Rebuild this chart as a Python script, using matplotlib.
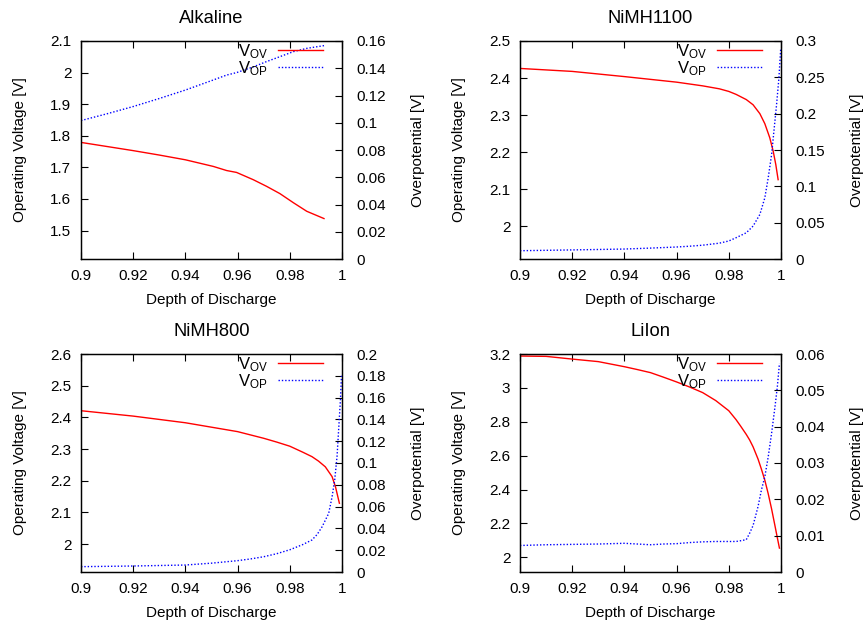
# -*- coding: utf-8 -*-

"""Operating voltage and overpotential near full discharge for four battery types."""

import matplotlib

matplotlib.use("Agg")
import matplotlib.pyplot as plt
from matplotlib.ticker import FormatStrFormatter

# Alkaline
alk_dod = [0.9, 0.91, 0.92, 0.93, 0.94, 0.9507, 0.9558, 0.9596, 0.966, 0.9711, 0.9762, 0.9814, 0.9865, 0.9931]
alk_vov = [1.779, 1.766, 1.753, 1.739, 1.724, 1.703, 1.690, 1.684, 1.661, 1.640, 1.617, 1.588, 1.561, 1.538]
alk_vop = [0.1016, 0.1066, 0.1119, 0.1178, 0.124, 0.1314, 0.135, 0.1368, 0.141, 0.1449, 0.1485, 0.1522, 0.1546, 0.1566]

# NiMH1100
nimh1100_dod_ov = [0.9, 0.92, 0.94, 0.96, 0.97, 0.9764, 0.98, 0.9828, 0.9867, 0.9893, 0.9919, 0.9938, 0.9957, 0.997,
                   0.998, 0.9989]
nimh1100_vov = [2.426, 2.418, 2.404, 2.389, 2.379, 2.371, 2.364, 2.356, 2.342, 2.328, 2.304, 2.277, 2.239, 2.203,
                2.167, 2.126]
nimh1100_dod_op = [0.9, 0.92, 0.94, 0.95, 0.96, 0.965, 0.97, 0.9764, 0.98, 0.9828, 0.9867, 0.9893, 0.9919, 0.9938,
                   0.9951, 0.9964, 0.9974, 0.9983, 0.9992, 0.9999]
nimh1100_vop = [0.0114, 0.0125, 0.0137, 0.015, 0.0165, 0.0176, 0.019, 0.0218, 0.0248, 0.0293, 0.0361, 0.0453, 0.0613,
                0.0842, 0.1117, 0.1437, 0.180, 0.2124, 0.249, 0.290]

# NiMH800
nimh800_dod_ov = [0.9, 0.92, 0.94, 0.96, 0.97, 0.975, 0.98, 0.985, 0.9885, 0.991, 0.9936, 0.9962, 0.9975, 0.999]
nimh800_vov = [2.421, 2.404, 2.383, 2.355, 2.334, 2.322, 2.309, 2.290, 2.276, 2.262, 2.244, 2.213, 2.181, 2.129]
nimh800_dod_op = [0.9, 0.92, 0.94, 0.95, 0.96, 0.965, 0.97, 0.975, 0.98, 0.985, 0.9885, 0.9905, 0.9924, 0.9949, 0.9962,
                  0.9972, 0.9981, 0.9987, 0.9994, 0.9998]
nimh800_vop = [0.0049, 0.0055, 0.0064, 0.0081, 0.0104, 0.012, 0.014, 0.0168, 0.0204, 0.0252, 0.0294, 0.0345, 0.0416,
               0.0538, 0.069, 0.0844, 0.106, 0.130, 0.158, 0.180]

# LiIon
liion_dod = [0.9, 0.91, 0.92, 0.93, 0.94, 0.945, 0.95, 0.955, 0.96, 0.965, 0.97, 0.975, 0.98, 0.9828, 0.9845, 0.9867,
             0.988, 0.9893, 0.9912, 0.9925, 0.9938, 0.9951, 0.9964, 0.9977, 0.9986, 0.9994]
liion_vov = [3.188, 3.186, 3.170, 3.155, 3.125, 3.108, 3.090, 3.063, 3.035, 3.005, 2.972, 2.925, 2.865, 2.812, 2.775,
             2.725, 2.692, 2.652, 2.580, 2.520, 2.455, 2.375, 2.285, 2.185, 2.115, 2.054]
liion_vop = [0.0073, 0.0075, 0.0076, 0.0077, 0.0079, 0.0077, 0.0075, 0.0077, 0.0078, 0.0081, 0.0083, 0.0084, 0.0084,
             0.0084, 0.0086, 0.0089, 0.0107, 0.0128, 0.018, 0.0226, 0.0262, 0.0317, 0.0382, 0.0455, 0.051, 0.0574]

x_ticks = [0.9, 0.92, 0.94, 0.96, 0.98, 1.0]

panels = [
    {
        "title": "Alkaline",
        "dod_ov": alk_dod, "vov": alk_vov, "dod_op": alk_dod, "vop": alk_vop,
        "ylim": (1.41, 2.1), "yticks": [1.5, 1.6, 1.7, 1.8, 1.9, 2.0, 2.1],
        "y2lim": (0, 0.16), "y2ticks": [0, 0.02, 0.04, 0.06, 0.08, 0.1, 0.12, 0.14, 0.16],
        "rect": (81, 41, 342, 259),
    },
    {
        "title": "NiMH1100",
        "dod_ov": nimh1100_dod_ov, "vov": nimh1100_vov, "dod_op": nimh1100_dod_op, "vop": nimh1100_vop,
        "ylim": (1.912, 2.5), "yticks": [2.0, 2.1, 2.2, 2.3, 2.4, 2.5],
        "y2lim": (0, 0.3), "y2ticks": [0, 0.05, 0.1, 0.15, 0.2, 0.25, 0.3],
        "rect": (520, 41, 781, 259),
    },
    {
        "title": "NiMH800",
        "dod_ov": nimh800_dod_ov, "vov": nimh800_vov, "dod_op": nimh800_dod_op, "vop": nimh800_vop,
        "ylim": (1.912, 2.6), "yticks": [2.0, 2.1, 2.2, 2.3, 2.4, 2.5, 2.6],
        "y2lim": (0, 0.2), "y2ticks": [0, 0.02, 0.04, 0.06, 0.08, 0.1, 0.12, 0.14, 0.16, 0.18, 0.2],
        "rect": (81, 354, 342, 572),
    },
    {
        "title": "LiIon",
        "dod_ov": liion_dod, "vov": liion_vov, "dod_op": liion_dod, "vop": liion_vop,
        "ylim": (1.913, 3.2), "yticks": [2.0, 2.2, 2.4, 2.6, 2.8, 3.0, 3.2],
        "y2lim": (0, 0.06), "y2ticks": [0, 0.01, 0.02, 0.03, 0.04, 0.05, 0.06],
        "rect": (520, 354, 781, 572),
    },
]

W, H = 865, 621


def draw_panel(fig, panel):
    x0, y0, x1, y1 = panel["rect"]
    ax = fig.add_axes([x0 / W, 1 - y1 / H, (x1 - x0) / W, (y1 - y0) / H])
    ax2 = ax.twinx()

    line_ov, = ax.plot(panel["dod_ov"], panel["vov"], color="#ff0000", lw=1.0,
                       label=r"$\mathrm{V}_{\mathrm{OV}}$")
    line_op, = ax2.plot(panel["dod_op"], panel["vop"], color="#0000ff", lw=1.0, linestyle=(0, (1, 1.4)),
                        label=r"$\mathrm{V}_{\mathrm{OP}}$")

    ax.set_xlim(0.9, 1.0)
    ax.set_xticks(x_ticks)
    ax.set_ylim(*panel["ylim"])
    ax.set_yticks(panel["yticks"])
    ax2.set_ylim(*panel["y2lim"])
    ax2.set_yticks(panel["y2ticks"])
    for axis in (ax.xaxis, ax.yaxis, ax2.yaxis):
        axis.set_major_formatter(FormatStrFormatter("%g"))

    ax.tick_params(axis="x", direction="in", top=True, length=5, width=0.8, pad=7)
    ax.tick_params(axis="y", direction="in", right=False, length=5, width=0.8, pad=7)
    ax2.tick_params(axis="y", direction="in", length=5, width=0.8, pad=10)

    ax.set_title(panel["title"], pad=13)
    ax.set_xlabel("Depth of Discharge", va="center")
    ax.set_ylabel("Operating Voltage [V]", va="center")
    ax2.set_ylabel("Overpotential [V]", va="center")
    ax.xaxis.set_label_coords(0.5, -0.19)
    ax.yaxis.set_label_coords(-0.235, 0.5)
    ax2.yaxis.set_label_coords(1.29, 0.5)

    for spine in list(ax.spines.values()) + list(ax2.spines.values()):
        spine.set_linewidth(0.9)

    ax2.legend(handles=[line_ov, line_op], loc="upper right", bbox_to_anchor=(0.927, 0.995),
               frameon=False, markerfirst=False, borderpad=0, borderaxespad=0,
               handlelength=2.7, handletextpad=0.6, labelspacing=-0.1, fontsize=12)


def main():
    plt.rcParams["font.family"] = ["Liberation Sans", "DejaVu Sans"]
    plt.rcParams["font.size"] = 11
    plt.rcParams["mathtext.fontset"] = "custom"
    plt.rcParams["mathtext.rm"] = "Liberation Sans"
    plt.rcParams["mathtext.it"] = "Liberation Sans:italic"

    fig = plt.figure(figsize=(W / 100, H / 100), dpi=100)
    for panel in panels:
        draw_panel(fig, panel)
    fig.savefig("out.png", dpi=100)
    plt.close(fig)


if __name__ == "__main__":
    main()
